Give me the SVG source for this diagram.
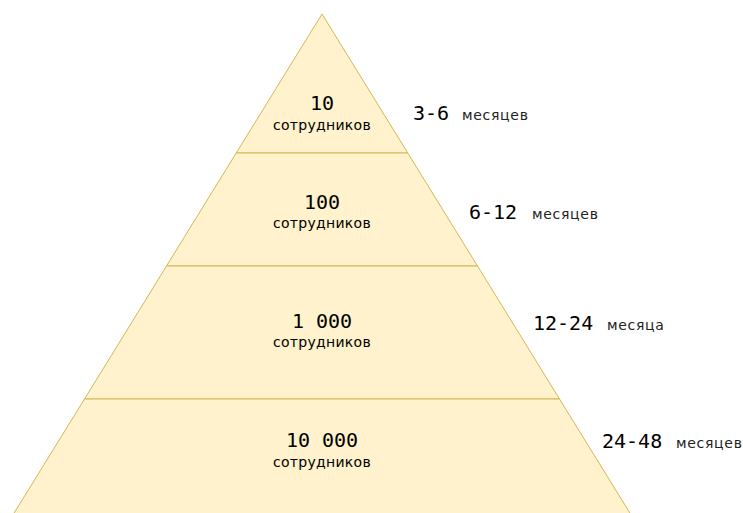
<svg xmlns="http://www.w3.org/2000/svg" width="743" height="513" viewBox="0 0 743 513">
<style>
.tier{fill:#fff2cc;stroke:#d6b656;stroke-width:1}
.num{font-family:"DejaVu Sans Mono",monospace;font-size:20px;fill:#000;text-anchor:middle}
.sub{font-family:"DejaVu Sans",sans-serif;font-size:14px;letter-spacing:0.3px;fill:#000;text-anchor:middle}
.per{font-family:"DejaVu Sans Mono",monospace;font-size:20px;fill:#000}
.unit{font-family:"DejaVu Sans",sans-serif;font-size:14px;letter-spacing:0.7px;fill:#222}
</style>
<rect width="743" height="513" fill="#fff"/>
<g id="tier1">
<polygon class="tier" points="322,14 407.8,153 236.2,153"/>
<text class="num" x="322" y="110">10</text>
<text class="sub" x="322" y="130">сотрудников</text>
</g>
<g id="tier2">
<polygon class="tier" points="236.2,153 407.8,153 477.5,266 166.5,266"/>
<text class="num" x="322" y="209">100</text>
<text class="sub" x="322" y="228">сотрудников</text>
</g>
<g id="tier3">
<polygon class="tier" points="166.5,266 477.5,266 559.5,399 84.5,399"/>
<text class="num" x="322" y="328">1 000</text>
<text class="sub" x="322" y="347">сотрудников</text>
</g>
<g id="tier4">
<polygon class="tier" points="84.5,399 559.5,399 633,518 11,518"/>
<text class="num" x="322" y="447">10 000</text>
<text class="sub" x="322" y="467">сотрудников</text>
</g>
<g id="labels">
<text x="413" y="120"><tspan class="per">3-6</tspan><tspan class="unit" x="462">месяцев</tspan></text>
<text x="469" y="219"><tspan class="per">6-12</tspan><tspan class="unit" x="532">месяцев</tspan></text>
<text x="533" y="330"><tspan class="per">12-24</tspan><tspan class="unit" x="607">месяца</tspan></text>
<text x="602" y="448"><tspan class="per">24-48</tspan><tspan class="unit" x="676">месяцев</tspan></text>
</g>
</svg>
